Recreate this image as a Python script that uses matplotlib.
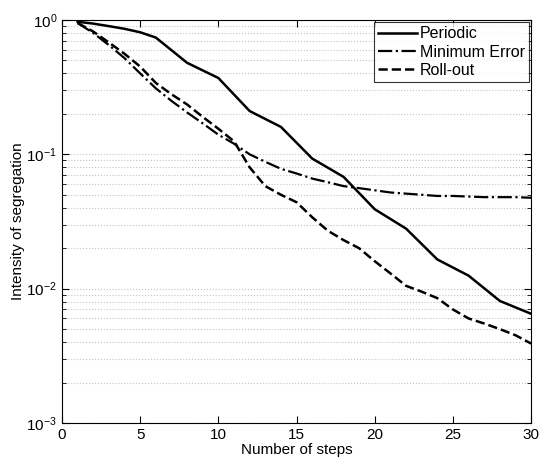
import matplotlib
matplotlib.use("Agg")
import matplotlib.pyplot as plt
from matplotlib.ticker import LogLocator, NullFormatter

plt.rcParams['font.family'] = ['Liberation Sans', 'DejaVu Sans']
plt.rcParams['mathtext.fontset'] = 'custom'
plt.rcParams['mathtext.rm'] = 'Liberation Sans'

# data
steps_periodic = [1, 2, 3, 4, 5, 6, 8, 10, 12, 14, 16, 18, 20, 22, 24, 26, 28, 30]
periodic = [0.97, 0.94, 0.90, 0.86, 0.81, 0.74, 0.48, 0.37, 0.21, 0.16, 0.093,
            0.068, 0.039, 0.028, 0.0165, 0.0125, 0.0081, 0.0065]

steps = list(range(1, 31))
min_error = [0.95, 0.80, 0.65, 0.52, 0.40, 0.31, 0.25, 0.205, 0.17, 0.14,
             0.12, 0.10, 0.088, 0.078, 0.072, 0.066, 0.062, 0.058, 0.056, 0.054,
             0.052, 0.051, 0.050, 0.049, 0.049, 0.0485, 0.048, 0.048, 0.048, 0.0475]
rollout = [0.95, 0.82, 0.68, 0.56, 0.45, 0.34, 0.28, 0.235, 0.19, 0.155,
           0.125, 0.08, 0.058, 0.050, 0.044, 0.034, 0.027, 0.023, 0.020, 0.016,
           0.013, 0.0105, 0.0095, 0.0085, 0.007, 0.006, 0.0055, 0.005, 0.0045, 0.0039]

fig = plt.figure(figsize=(5.42, 4.62), dpi=100)
ax = fig.add_axes([0.1144, 0.0844, 0.8656, 0.8723])

ax.plot(steps_periodic, periodic, '-', color='black', lw=1.8, label='Periodic')
ax.plot(steps, min_error, '-.', color='black', lw=1.6, label='Minimum Error')
ax.plot(steps, rollout, '--', color='black', lw=1.8, label='Roll-out')

ax.set_yscale('log')
ax.set_xlim(0, 30)
ax.set_ylim(1e-3, 1)
ax.set_xticks([0, 5, 10, 15, 20, 25, 30])
ax.yaxis.set_major_locator(LogLocator(base=10, numticks=10))
ax.yaxis.set_minor_locator(LogLocator(base=10, subs=range(2, 10), numticks=20))
ax.yaxis.set_minor_formatter(NullFormatter())
ax.grid(True, axis='y', which='both', linestyle=':', color='#c4c4c4', lw=0.8)
ax.tick_params(which='both', direction='in', top=True, right=True, labelsize=11)
ax.tick_params(which='major', length=5)
ax.tick_params(which='minor', length=3)

ax.set_xlabel('Number of steps', fontsize=11, labelpad=1)
ax.set_ylabel('Intensity of segregation', fontsize=11, labelpad=1)

leg = ax.legend(loc='upper right', fontsize=11.5, frameon=True, fancybox=False,
                borderaxespad=0.15, handlelength=2.4, borderpad=0.25, labelspacing=0.2,
                handletextpad=0.2)
leg.get_frame().set_edgecolor('black')
leg.get_frame().set_linewidth(0.8)

for s in ax.spines.values():
    s.set_linewidth(0.8)

fig.savefig('out.png', dpi=100)
